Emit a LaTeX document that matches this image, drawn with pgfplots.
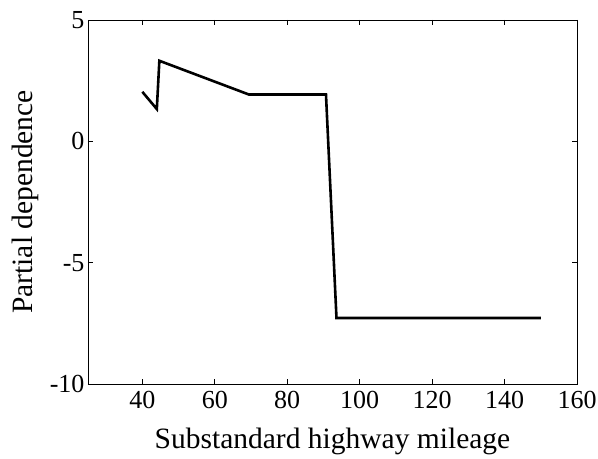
\documentclass[border=0pt]{standalone}
\usepackage{pgfplots}
\pgfplotsset{compat=1.18}
\usepackage{fontspec}
\setmainfont{Liberation Serif}
\begin{document}
\begin{tikzpicture}
% fixed page frame around the 489bp x 364bp plot box
\useasboundingbox (-88bp,-75bp) rectangle (510bp,384bp);
\begin{axis}[
  at={(0,0)}, anchor=south west,
  scale only axis,
  width=489bp, height=364bp,
  xmin=25, xmax=160, ymin=-10, ymax=5,
  xtick={40,60,...,160}, ytick={-10,-5,0,5},
  tick align=inside,
  major tick length=5bp,
  axis line style={line width=0.8bp},
  every tick/.style={line width=0.8bp, black},
  tick label style={font=\fontsize{26bp}{30bp}\selectfont},
  /pgf/number format/assume math mode=true,
  yticklabel style={/pgf/number format/fixed},
  label style={font=\fontsize{29.5bp}{34bp}\selectfont},
  xlabel={Substandard highway mileage},
  ylabel={Partial dependence},
  xlabel style={at={(axis description cs:0.5,0)}, anchor=north, yshift=-41bp},
  ylabel style={at={(axis description cs:0,0.5)}, anchor=south, yshift=46bp},
  xticklabel style={yshift=-4bp},
]
\addplot[black, line width=2.6bp, line join=miter] coordinates {
  (40,2.04) (44,1.33) (44.7,3.32) (69.4,1.93) (90.7,1.93) (93.6,-7.28) (150,-7.28)
};
\end{axis}
\end{tikzpicture}
\end{document}
